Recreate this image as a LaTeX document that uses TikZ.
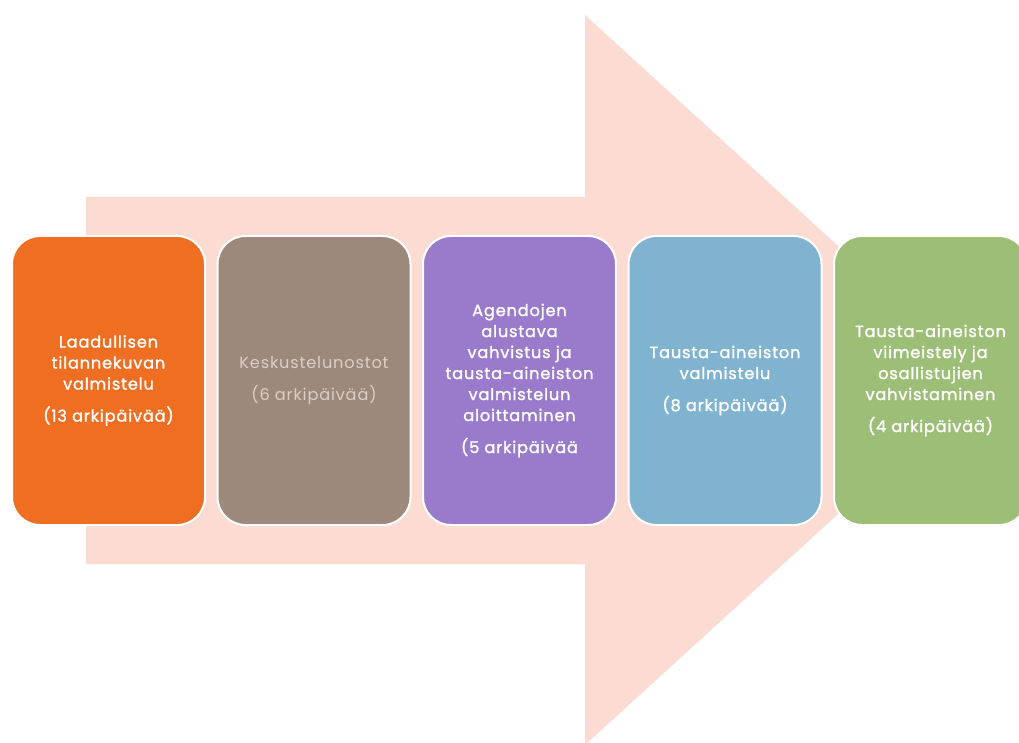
\documentclass[tikz,border=0pt]{standalone}
\usepackage{fontspec}
\setmainfont{Poppins}[LetterSpace=5,FakeBold=1.4]
\newfontfamily\thinstep{Poppins}[LetterSpace=5]
\usetikzlibrary{positioning}

\definecolor{ArrowPink}{HTML}{FBDBD2}
\definecolor{StepOrange}{HTML}{F06E22}
\definecolor{StepBrown}{HTML}{9D887C}
\definecolor{StepPurple}{HTML}{9A7ACB}
\definecolor{StepBlue}{HTML}{80B3CF}
\definecolor{StepGreen}{HTML}{9DBE76}
\definecolor{FadedText}{HTML}{D9CFC9}

\begin{document}
\begin{tikzpicture}[x=1pt,y=-1pt,node distance=12.5pt,
  every node/.style={draw=white,line width=2pt,outer sep=0pt,rounded corners=28pt,
    minimum width=193pt,minimum height=289pt,align=center,text=white,
    font=\fontsize{16.2}{21}\selectfont},
  stepbox/.style={fill=#1}]
\useasboundingbox (0,0) rectangle (1019,743);
\fill [ArrowPink] (86,197) -- (585,197) -- (585,15) -- (985,380) -- (585,745) -- (585,564) -- (86,564) -- cycle;
\node [stepbox=StepOrange] (Laadullinen) at (108.5,380.5) {Laadullisen\\tilannekuvan\\valmistelu\\[11pt](13 arkipäivää)};
\node [stepbox=StepBrown,right=of Laadullinen,text=FadedText,font=\thinstep\fontsize{16.2}{21}\selectfont] (Keskustelu) {Keskustelunostot\\[11pt](6 arkipäivää)};
\node [stepbox=StepPurple,right=of Keskustelu] (Agendat) {Agendojen\\alustava\\vahvistus ja\\tausta-aineiston\\valmistelun\\aloittaminen\\[11pt](5 arkipäivää};
\node [stepbox=StepBlue,right=of Agendat] (Tausta) {Tausta-aineiston\\valmistelu\\[11pt](8 arkipäivää)};
\node [stepbox=StepGreen,right=of Tausta] (Viimeistely) {Tausta-aineiston\\viimeistely ja\\osallistujien\\vahvistaminen\\[11pt](4 arkipäivää)};
\end{tikzpicture}
\end{document}
